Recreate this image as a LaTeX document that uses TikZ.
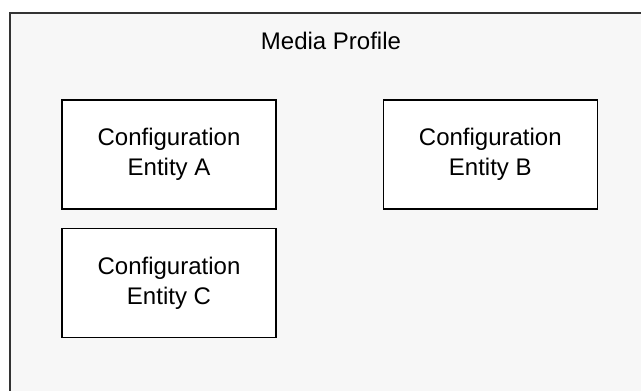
\documentclass[tikz,border=0pt]{standalone}
\usepackage{fontspec}
\setmainfont{Liberation Sans}
\usetikzlibrary{positioning}

\begin{document}
\begin{tikzpicture}[x=1pt,y=-1pt,
		entity/.style={draw=black,line width=1.3pt,fill=white,minimum width=214pt,minimum height=109pt,
			align=center,inner sep=0pt,font=\fontsize{24}{30}\selectfont},
		profile/.style={fill=black!3,draw=black!80,line width=2pt}]
	\useasboundingbox (0,0) rectangle (641,391);
	\clip (0,0) rectangle (641,391);
	\fill[white] (0,0) rectangle (641,391);
	\draw[profile] (10,13) rectangle (670,420);
	
	\node[font=\fontsize{24}{28}\selectfont] (title) at (331,41) {Media Profile};
	\node[entity] (entA) at (169,154.5) {Configuration\\Entity A};
	\node[entity,right=106pt of entA] (entB) {Configuration\\Entity B};
	\node[entity,below=18pt of entA] (entC) {Configuration\\Entity C};
\end{tikzpicture}
\end{document}
